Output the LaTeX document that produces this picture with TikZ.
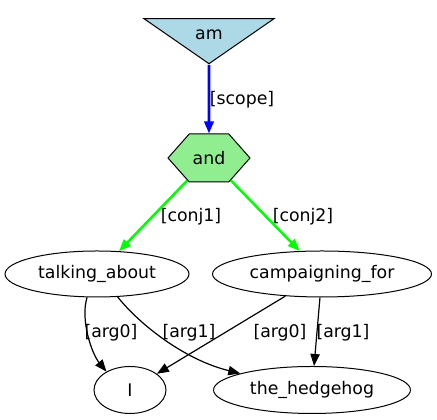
\documentclass[tikz,border=0pt]{standalone}
\usepackage{fontspec}
\setmainfont{DejaVu Sans}
\usetikzlibrary{shapes.geometric, shapes.symbols, arrows.meta, positioning}
\definecolor{amblue}{HTML}{ADD8E6}
\definecolor{andgreen}{HTML}{90EE90}
\tikzset{
  every node/.style={font=\fontsize{13}{15}\selectfont},
  word/.style={draw, line width=0.75pt, ellipse, inner sep=0pt, minimum height=34.5pt},
  rel/.style={-{Triangle[length=9pt,width=7pt]}, line width=0.9pt},
  conj/.style={-{Triangle[length=9pt,width=7pt]}, line width=1.9pt, draw={rgb,255:red,0;green,255;blue,0}},
  lab/.style={inner sep=0pt}
}

\begin{document}
\begin{tikzpicture}[x=0.75pt, y=0.75pt]
 \useasboundingbox (0,0) rectangle (437,420);
 \node (am) [draw, line width=0.75pt, fill=amblue, isosceles triangle, shape border rotate=270, isosceles triangle stretches, minimum width=97.5pt, minimum height=33.75pt, inner sep=0pt, anchor=apex] at (209,355) {am};
 \node (and) [draw, line width=0.75pt, fill=andgreen, signal, signal to=west and east, signal pointer angle=97, minimum width=61.5pt, minimum height=36pt, inner sep=0pt] at (209,262) {and};
 \node (ta) [word, minimum width=138pt] at (97,146) {talking\_about};
 \node (cf) [word, minimum width=164.25pt] at (322,146) {campaigning\_for};
 \node (I) [word, minimum width=54pt, minimum height=35.25pt] at (130,30) {I};
 \node (th) [word, minimum width=147.75pt, minimum height=35.25pt] at (312,30) {the\_hedgehog};
 \node (lscope) [lab] at (242,320) {[scope]};
 \node (lconj1) [lab] at (191,203) {[conj1]};
 \node (lconj2) [lab] at (303,203) {[conj2]};
 \node (lta0) [lab] at (111,87) {[arg0]};
 \node (lta1) [lab] at (189,87) {[arg1]};
 \node (lcf0) [lab] at (280,87) {[arg0]};
 \node (lcf1) [lab] at (343,87) {[arg1]};
 \draw[rel, line width=1.9pt, blue] (am.apex) -- (and);
 \draw[conj] (and) -- (ta);
 \draw[conj] (and) -- (cf);
 \draw[rel] (ta.247) .. controls (80,100) and (92,66) .. (I.142);
 \draw[rel] (ta.312) .. controls (140,95) and (185,60) .. (th.167);
 \draw[rel] (cf) -- (I);
 \draw[rel] (cf) -- (th);
\end{tikzpicture}
\end{document}
